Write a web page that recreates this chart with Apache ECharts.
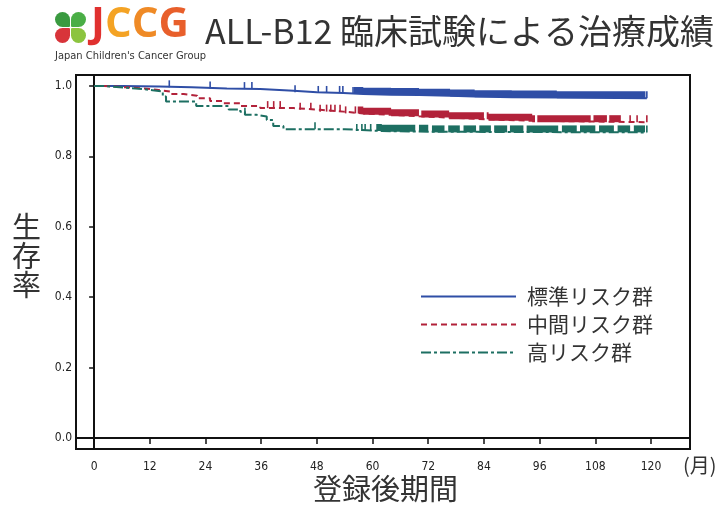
<!DOCTYPE html>
<html>
<head>
    <meta charset="utf-8">
    <title>ALL-B12</title>
    <script src="https://cdn.jsdelivr.net/npm/echarts@6/dist/echarts.min.js"></script>
</head>
<style>
    html, body { margin: 0; padding: 0; background: #fff; }
    #chart_box { width: 723px; height: 507px; }
</style>
<body>
    <div id="chart_box"></div>
    <script>
        // 群の名前と色
        var groupNames = ['標準リスク群', '中間リスク群', '高リスク群'];
        var groupColors = ['#2f4ea6', '#b2223a', '#1d6f62'];

        // x軸の目盛り (月)
        var xTicks = [0, 12, 24, 36, 48, 60, 72, 84, 96, 108, 120];
        var yTicks = [0, 0.2, 0.4, 0.6, 0.8, 1.0];

        // 生存曲線 (イベント時点, 生存率)
        var stdTimes = [0, 6, 14, 21, 28.6, 35.8, 43, 48, 53.7, 58, 64, 70, 76.7, 82, 90, 99.7, 119.1];
        var stdSurv = [1, 0.998, 0.996, 0.993, 0.991, 0.986, 0.982, 0.980, 0.977, 0.975, 0.974, 0.972, 0.970, 0.968, 0.967, 0.965, 0.965];

        var midTimes = [0, 2, 4.5, 7, 10.6, 13.5, 16.4, 19.3, 22.2, 25, 27.9, 31.5, 35.8, 43, 48.7, 53.7, 58, 64, 70, 76.5, 85, 94.4, 119.1];
        var midSurv = [1, 0.998, 0.996, 0.993, 0.989, 0.984, 0.977, 0.972, 0.965, 0.957, 0.951, 0.943, 0.937, 0.932, 0.927, 0.922, 0.918, 0.914, 0.910, 0.905, 0.901, 0.897, 0.897];

        var highTimes = [0, 1.7, 4, 7, 10.5, 12.6, 14.8, 15.5, 22, 29, 31.5, 32.5, 35, 37.2, 38.6, 40.8, 54, 62, 72, 119.1];
        var highSurv = [1, 0.998, 0.995, 0.991, 0.988, 0.984, 0.970, 0.956, 0.943, 0.933, 0.927, 0.918, 0.913, 0.903, 0.886, 0.877, 0.872, 0.870, 0.868, 0.868];

        // 打ち切り (個別)
        var stdCensor = [16.2, 25, 32.4, 34, 43.3, 48.3, 50.1, 52.9, 53.6, 55.8, 119.1];
        var midCensor = [37.4, 38.7, 40.1, 44.4, 46.7, 48.7, 50.1, 51, 51.9, 53, 54.2, 56.3, 115.5, 117, 119.1];
        var highCensor = [32.5, 47.6, 56.6, 57.7, 58.4, 59.6, 119.1];

        // 打ち切りが密集している区間 [開始, 終了]
        var stdDense = [[56, 118.8]];
        var midDense = [[56.8, 70], [70.5, 84], [84.6, 95], [95.5, 107], [107.6, 110.5], [111, 113.5]];
        var highDense = [[60.8, 69.2], [70, 72], [72.8, 75.5], [76.3, 78.8], [79.6, 82.3], [83, 85.5], [86.2, 89],
            [89.6, 92.5], [93.2, 100], [100.8, 104], [104.7, 108], [108.8, 112], [112.8, 115.5], [116.3, 118.7]];

        var curves = [
            { times: stdTimes, surv: stdSurv, censor: stdCensor, dense: stdDense, dash: 'solid' },
            { times: midTimes, surv: midSurv, censor: midCensor, dense: midDense, dash: [6, 4] },
            { times: highTimes, surv: highSurv, censor: highCensor, dense: highDense, dash: [10, 3, 3, 3] }
        ];

        var TICK_H = 7;

        function survAt(c, t) {
            var s = c.surv[0];
            for (var i = 0; i < c.times.length; i++) {
                if (c.times[i] <= t) s = c.surv[i];
            }
            return s;
        }

        var myChart = echarts.init(document.getElementById('chart_box'));
        var series = [];

        curves.forEach(function (c, k) {
            var pts = c.times.map(function (t, i) { return [t, c.surv[i]]; });
            series.push({
                name: groupNames[k],
                type: 'line',
                step: 'end',
                symbol: 'none',
                data: pts,
                z: 3,
                lineStyle: { color: groupColors[k], width: 2, type: c.dash },
                itemStyle: { color: groupColors[k] }
            });

            // 個別の打ち切りマーク
            series.push({
                type: 'custom',
                silent: true,
                data: c.censor.map(function (t) { return [t, survAt(c, t)]; }),
                encode: { x: 0, y: 1 },
                renderItem: function (params, api) {
                    var p = api.coord([api.value(0), api.value(1)]);
                    return {
                        type: 'line',
                        shape: { x1: p[0], y1: p[1], x2: p[0], y2: p[1] - TICK_H },
                        style: { stroke: groupColors[k], lineWidth: 1.6 }
                    };
                }
            });

            // 密集した打ち切りマーク
            series.push({
                type: 'custom',
                silent: true,
                data: c.dense.map(function (d) { return [d[0], survAt(c, d[0]), d[1]]; }),
                encode: { x: 0, y: 1 },
                renderItem: function (params, api) {
                    var t0 = api.value(0), t1 = api.value(2);
                    var line = [[t0, survAt(c, t0)]];
                    var prev = survAt(c, t0);
                    c.times.forEach(function (t, i) {
                        if (t > t0 && t <= t1) {
                            line.push([t, prev]);
                            line.push([t, c.surv[i]]);
                            prev = c.surv[i];
                        }
                    });
                    line.push([t1, prev]);
                    var bottom = line.map(function (v) { return api.coord(v); });
                    var top = bottom.map(function (p) { return [p[0], p[1] - TICK_H]; }).reverse();
                    return {
                        type: 'polygon',
                        shape: { points: bottom.concat(top) },
                        style: { fill: groupColors[k] }
                    };
                }
            });
        });

        var axisFont = "'Liberation Sans Narrow', 'DejaVu Sans Condensed', sans-serif";
        var jpFont = "'Noto Sans CJK JP', sans-serif";
        var logoFont = "bold 42px 'Open Sans', sans-serif";

        var option = {
            animation: false,
            backgroundColor: '#fff',
            grid: {
                left: 76, right: 33, top: 75, bottom: 58,
                show: true, borderColor: '#111', borderWidth: 2
            },
            legend: {
                data: groupNames,
                orient: 'vertical',
                left: 415,
                top: 281,
                itemWidth: 95,
                itemHeight: 14,
                itemGap: 7,
                itemStyle: { opacity: 0 },
                textStyle: {
                    fontFamily: jpFont, fontSize: 21, color: '#333',
                    padding: [0, 0, 0, 6]
                }
            },
            xAxis: {
                type: 'value',
                min: -3.9,
                max: 128.4,
                splitLine: { show: false },
                axisLine: { lineStyle: { color: '#111', width: 2 } },
                axisTick: { customValues: xTicks, length: 6, lineStyle: { color: '#111', width: 1.5 } },
                axisLabel: {
                    customValues: xTicks, margin: 12,
                    fontFamily: axisFont, fontSize: 12, color: '#222'
                }
            },
            yAxis: {
                type: 'value',
                min: -0.031,
                max: 1.031,
                splitLine: { show: false },
                axisLine: { lineStyle: { color: '#111', width: 2 } },
                axisTick: { customValues: yTicks, length: 5, lineStyle: { color: '#111', width: 1.5 } },
                axisLabel: {
                    customValues: yTicks, margin: 4,
                    fontFamily: axisFont, fontSize: 12, color: '#222',
                    formatter: function (v) { return v.toFixed(1); }
                }
            },
            graphic: [
                // ロゴ (四つ葉)
                { type: 'rect', shape: { x: 55, y: 12, width: 15, height: 15, r: [7.5, 7.5, 1, 7.5] }, style: { fill: '#3a9a40' } },
                { type: 'rect', shape: { x: 71, y: 12, width: 15, height: 15, r: [7.5, 7.5, 7.5, 1] }, style: { fill: '#4aae46' } },
                { type: 'rect', shape: { x: 55, y: 28, width: 15, height: 15, r: [7.5, 1, 7.5, 7.5] }, style: { fill: '#d8343a' } },
                { type: 'rect', shape: { x: 71, y: 28, width: 15, height: 15, r: [1, 7.5, 7.5, 7.5] }, style: { fill: '#8cc43f' } },
                {
                    type: 'text', left: 91, top: 4,
                    style: {
                        text: '{j|J}{c1|C}{c2|C}{g|G}',
                        font: logoFont,
                        rich: {
                            j: { fill: '#e0312f', font: logoFont },
                            c1: { fill: '#f4a324', font: logoFont },
                            c2: { fill: '#ef8a26', font: logoFont },
                            g: { fill: '#e85f2b', font: logoFont }
                        }
                    }
                },
                {
                    type: 'text', left: 55, top: 51,
                    style: { text: "Japan Children's Cancer Group", fill: '#333', font: "11px " + axisFont }
                },
                {
                    type: 'text', left: 205, top: 14,
                    style: { text: 'ALL-B12 臨床試験による治療成績', fill: '#333', font: '34px ' + jpFont }
                },
                // 軸タイトル
                {
                    type: 'text', left: 12, top: 212,
                    style: { text: '生\n存\n率', fill: '#333', font: '29px ' + jpFont, lineHeight: 29 }
                },
                {
                    type: 'text', left: 313, top: 474,
                    style: { text: '登録後期間', fill: '#333', font: '29px ' + jpFont }
                },
                {
                    type: 'text', left: 683, top: 455,
                    style: { text: '(月)', fill: '#333', font: '20px ' + jpFont }
                }
            ],
            series: series
        };

        myChart.setOption(option);
    </script>
</body>
</html>
